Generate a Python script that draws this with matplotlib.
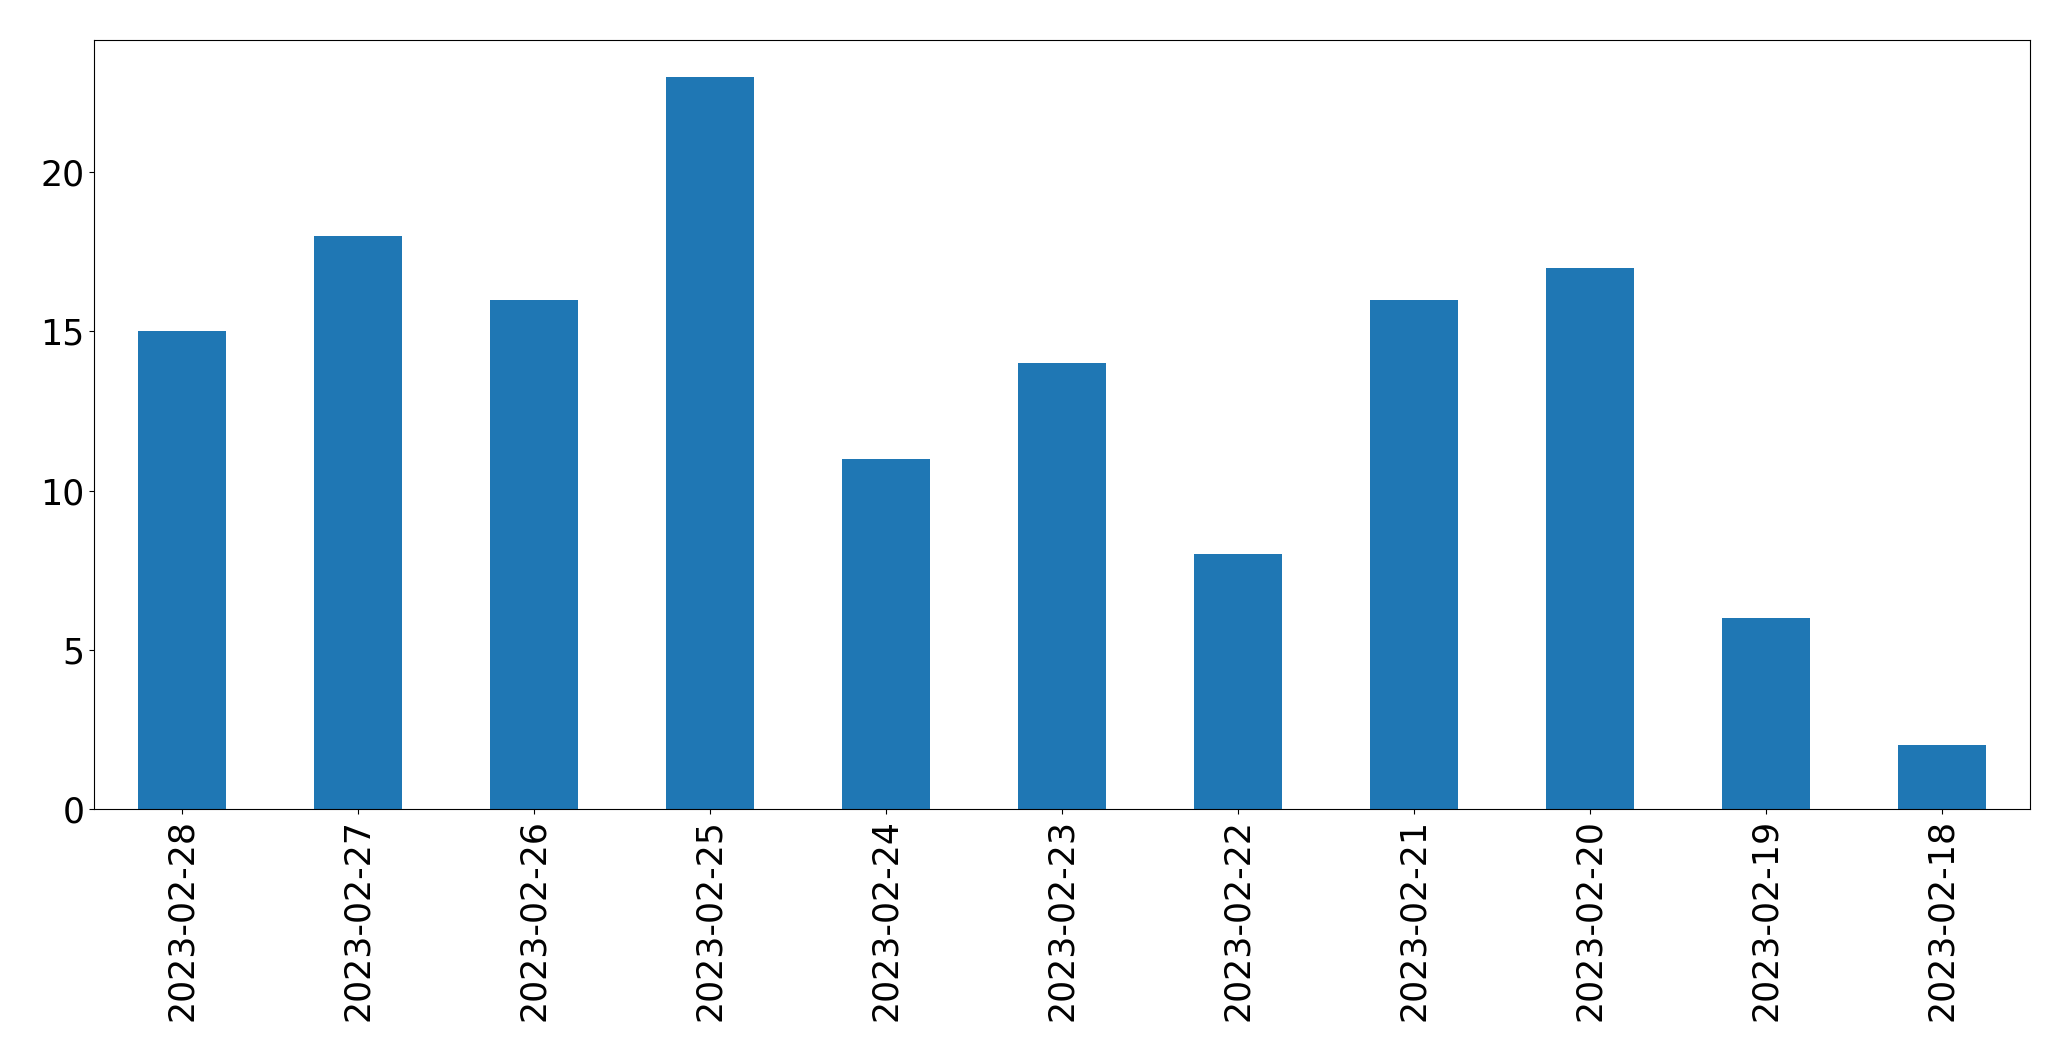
import matplotlib
matplotlib.use("Agg")
import pandas as pd
from matplotlib import pyplot as plt

dates = ["2023-02-28", "2023-02-27", "2023-02-26", "2023-02-25", "2023-02-24",
         "2023-02-23", "2023-02-22", "2023-02-21", "2023-02-20", "2023-02-19",
         "2023-02-18"]
counts = [15, 18, 16, 23, 11, 14, 8, 16, 17, 6, 2]

s = pd.Series(counts, index=dates)

fig = plt.figure(figsize=(20.71, 10.61), dpi=100)
ax = fig.add_axes([94 / 2071, 1 - 809 / 1061, (2030 - 94) / 2071, (809 - 40) / 1061])
s.plot(kind="bar", ax=ax, color="#1f77b4", fontsize=25)

fig.savefig("out.png", dpi=100)
